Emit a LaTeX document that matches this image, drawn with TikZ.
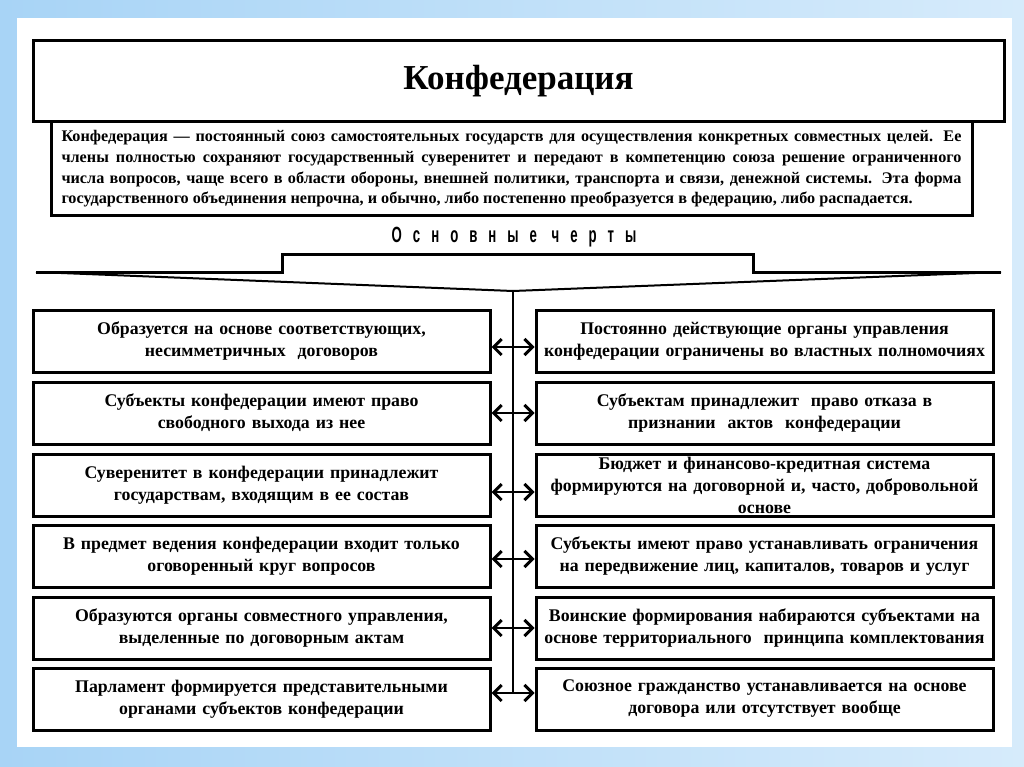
\documentclass[tikz,border=0pt]{standalone}
\usepackage{fontspec}
\setmainfont{Liberation Serif}
\newfontfamily\narrowfont[FakeStretch=0.6,LetterSpace=50]{Liberation Sans}
\usetikzlibrary{arrows.meta}
\definecolor{frameblue}{RGB}{168,212,246}
\definecolor{framelight}{RGB}{214,235,251}
\begin{document}
\begin{tikzpicture}[x=1pt,y=-1pt,
  box/.style={draw, line width=3pt, minimum width=457pt, minimum height=62pt,
    inner sep=0pt, align=center, text width=456pt,
    font=\fontsize{17.8}{22}\selectfont\bfseries},
  link/.style={line width=2.4pt, {Straight Barb[length=8pt,width=16pt,line width=3pt]}-{Straight Barb[length=8pt,width=16pt,line width=3pt]}},
  bold/.style={line width=3pt}]
\useasboundingbox (0,0) rectangle (1024,767);
% frame
\shade[left color=frameblue, right color=framelight] (0,0) rectangle (1024,767);
\fill[white] (17,18) rectangle (1012,747);

% description and title
\node[draw, line width=3pt, minimum width=921pt, minimum height=94pt, inner sep=0pt] (desc) at (511.5,169)
  {\parbox{900pt}{\fontsize{16.2}{20.7}\selectfont\bfseries
  Конфедерация — постоянный союз самостоятельных государств для осуществления конкретных совместных целей. Ее\linebreak
  члены полностью сохраняют государственный суверенитет и передают в компетенцию союза решение ограниченного\linebreak
  числа вопросов, чаще всего в области обороны, внешней политики, транспорта и связи, денежной системы. Эта форма\linebreak
  государственного объединения непрочна, и обычно, либо постепенно преобразуется в федерацию, либо распадается.}};
\node[draw, fill=white, line width=3pt, minimum width=971pt, minimum height=81pt, inner sep=0pt,
  font=\fontsize{35}{38}\selectfont\bfseries] (title) at (518.5,81.5) {Конфедерация};

% main features heading
\node[font=\fontsize{22}{24}\selectfont\narrowfont\bfseries] (feat) at (514,237) {Основные черты};
\coordinate (tipL) at (36,272);
\coordinate (tipR) at (1001,272);
\coordinate (hub) at (513,291);
\draw[line width=2pt, line join=round] (tipL) -- (hub) -- (tipR);
\draw[bold] (tipL) -- (282,272) -- (282,254) -- (753,254) -- (753,272) -- (tipR);

% boxes
\node[box] (L1) at (261.5,341) {Образуется на основе соответствующих,\\несимметричных\ \ договоров};
\node[box] (L2) at (261.5,413) {Субъекты конфедерации\ имеют право\\свободного выхода из нее};
\node[box] (L3) at (261.5,485) {Суверенитет в конфедерации\ принадлежит\\государствам, входящим в ее состав};
\node[box] (L4) at (261.5,556) {В предмет ведения конфедерации входит только\\оговоренный круг вопросов};
\node[box] (L5) at (261.5,628) {Образуются органы совместного управления,\\выделенные по договорным\ актам};
\node[box] (L6) at (261.5,699) {Парламент формируется представительными\\органами субъектов конфедерации};

\node[box] (R1) at (764.5,341) {Постоянно действующие органы управления\\конфедерации ограничены во властных полномочиях};
\node[box] (R2) at (764.5,413) {Субъектам принадлежит\ \ право отказа в\\признании\ \ актов\ \ конфедерации};
\node[box] (R3) at (764.5,485) {Бюджет и финансово-кредитная система\\формируются на договорной и, часто, добровольной\\основе};
\node[box] (R4) at (764.5,556) {Субъекты имеют право устанавливать ограничения\\на передвижение лиц, капиталов, товаров и услуг};
\node[box] (R5) at (764.5,628) {Воинские формирования набираются субъектами на\\основе территориального\ \ принципа комплектования};
\node[box] (R6) at (764.5,699) {Союзное гражданство устанавливается\ на основе\\договора или отсутствует вообще};

% spine
\coordinate (spineEnd) at (513,693);
\draw[line width=2.2pt] (hub) -- (spineEnd);

% links
\draw[link] ([yshift=-6pt]L1.east) -- ([yshift=-6pt]R1.west);
\draw[link] (L2.east) -- (R2.west);
\draw[link] ([yshift=-7pt]L3.east) -- ([yshift=-7pt]R3.west);
\draw[link] ([yshift=-3pt]L4.east) -- ([yshift=-3pt]R4.west);
\draw[link] (L5.east) -- (R5.west);
\draw[link] ([yshift=6pt]L6.east) -- ([yshift=6pt]R6.west);
\end{tikzpicture}
\end{document}
